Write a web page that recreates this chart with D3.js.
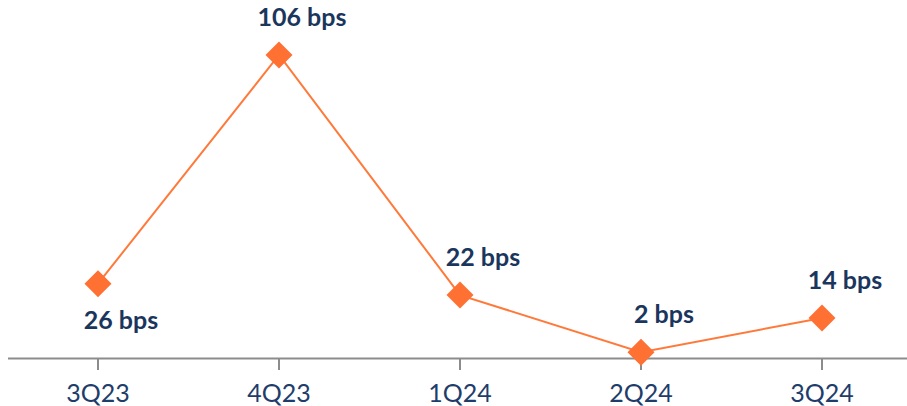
<!DOCTYPE html>
<html>
<head>
<meta charset="utf-8">
<script src="https://cdn.jsdelivr.net/npm/d3@7"></script>
<style>
  html, body { margin: 0; padding: 0; background: #ffffff; }
  svg { display: block; }
</style>
</head>
<body>
<div id="chart"></div>
<script>
// Quarterly change, in basis points
const quarters = ["3Q23", "4Q23", "1Q24", "2Q24", "3Q24"];
const bps = [26, 106, 22, 2, 14];
const labelSide = ["below", "above", "above", "above", "above"];

const width = 907, height = 406;
const svg = d3.select("#chart").append("svg")
  .attr("width", width).attr("height", height);

const x = d3.scaleBand().domain(quarters).range([7.5, 912.5]);
const cx = q => x(q) + x.bandwidth() / 2;
const y = d3.scaleLinear().domain([0, 106]).range([358, 55]);

// category axis along the zero line
const axis = d3.axisBottom(x).tickSize(12).tickPadding(14).tickSizeOuter(0);
const gx = svg.append("g").attr("transform", `translate(0,${y(0)})`).call(axis);
gx.select(".domain").attr("stroke", "#8c8c8c").attr("stroke-width", 2);
gx.selectAll(".tick line").attr("stroke", "#8c8c8c").attr("stroke-width", 2);
gx.selectAll(".tick text")
  .attr("font-family", "Lato, 'Open Sans', sans-serif")
  .attr("font-size", 25)
  .attr("fill", "#1f3d6b");

const data = quarters.map((q, i) => ({ q, v: bps[i], side: labelSide[i] }));

// connecting line
svg.append("path")
  .datum(data)
  .attr("fill", "none")
  .attr("stroke", "#ff7a3a")
  .attr("stroke-width", 2)
  .attr("d", d3.line().x(d => cx(d.q)).y(d => y(d.v)));

// diamond markers
const half = 13.5;
svg.selectAll("path.marker")
  .data(data)
  .join("path")
  .attr("class", "marker")
  .attr("fill", "#ff7033")
  .attr("d", d => {
    const px = cx(d.q), py = y(d.v);
    return `M${px},${py - half}L${px + half},${py}L${px},${py + half}L${px - half},${py}Z`;
  });

// value labels
svg.selectAll("text.value")
  .data(data)
  .join("text")
  .attr("class", "value")
  .attr("x", d => cx(d.q) + 23)
  .attr("y", d => y(d.v) + (d.side === "below" ? 45 : -29))
  .attr("text-anchor", "middle")
  .attr("font-family", "Lato, 'Open Sans', sans-serif")
  .attr("font-weight", 700)
  .attr("font-size", 25)
  .attr("fill", "#1b365d")
  .text(d => `${d.v} bps`);
</script>
</body>
</html>
